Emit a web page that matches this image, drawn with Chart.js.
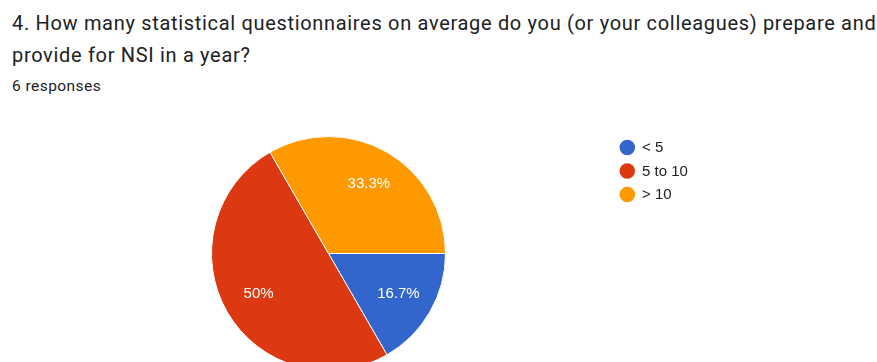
<!DOCTYPE html>
<html>
<head>
<meta charset="utf-8">
<script src="https://cdn.jsdelivr.net/npm/chart.js@4/dist/chart.umd.min.js"></script>
<style>
  html, body { margin: 0; padding: 0; background: #fff; overflow: hidden; width: 877px; height: 362px; }
  .title {
    position: absolute; left: 12px; top: 7px; width: 900px;
    font-family: Roboto, "Open Sans", sans-serif; font-size: 20px; line-height: 32px;
    letter-spacing: 0.68px; color: #202124; white-space: nowrap;
  }
  .count {
    position: absolute; left: 12px; top: 77px;
    font-family: Roboto, sans-serif; font-size: 15.5px; letter-spacing: 0.45px; color: #202124;
  }
  #wrap { position: absolute; left: 0; top: 0; width: 877px; height: 400px; }
</style>
</head>
<body>
<div class="title">4. How many statistical questionnaires on average do you (or your colleagues) prepare and<br>provide for NSI in a year?</div>
<div class="count">6 responses</div>
<div id="wrap"><canvas id="myChart" width="877" height="400"></canvas></div>
<script>
const categories = ['< 5', '5 to 10', '> 10'];
const responses = [1, 3, 2];
const sliceColors = ['#3366cc', '#dc3912', '#ff9900'];

const total = responses.reduce((a, b) => a + b, 0);

// percentage text inside each slice, plus the legend on the right
const pieLabels = {
    id: 'pieLabels',
    afterDatasetsDraw(chart) {
        const ctx = chart.ctx;
        const meta = chart.getDatasetMeta(0);
        ctx.save();
        ctx.font = '15px Arial, "Liberation Sans", sans-serif';
        ctx.fillStyle = '#ffffff';
        ctx.textAlign = 'center';
        ctx.textBaseline = 'middle';
        meta.data.forEach((arc, i) => {
            const p = arc.getProps(['x', 'y', 'startAngle', 'endAngle', 'outerRadius'], true);
            const mid = (p.startAngle + p.endAngle) / 2;
            const r = p.outerRadius * 0.69;
            const pct = Math.round(responses[i] / total * 1000) / 10;
            ctx.fillText(pct + '%', p.x + Math.cos(mid) * r, p.y + Math.sin(mid) * r);
        });

        // legend
        ctx.textAlign = 'left';
        categories.forEach((c, i) => {
            const y = 147.5 + i * 23.5;
            ctx.beginPath();
            ctx.arc(627.3, y, 7.8, 0, Math.PI * 2);
            ctx.fillStyle = sliceColors[i];
            ctx.fill();
            ctx.fillStyle = '#222222';
            ctx.fillText(c, 642, y + 0.5);
        });
        ctx.restore();
    }
};

const ctx = document.getElementById('myChart').getContext('2d');
new Chart(ctx, {
    type: 'pie',
    data: {
        labels: categories,
        datasets: [{
            data: responses,
            backgroundColor: sliceColors,
            borderColor: '#ffffff',
            borderWidth: 1
        }]
    },
    options: {
        responsive: false,
        animation: false,
        rotation: 90,
        layout: { padding: { left: 211, top: 136, right: 431, bottom: 29 } },
        plugins: {
            legend: { display: false },
            tooltip: { enabled: false }
        }
    },
    plugins: [pieLabels]
});
</script>
</body>
</html>
